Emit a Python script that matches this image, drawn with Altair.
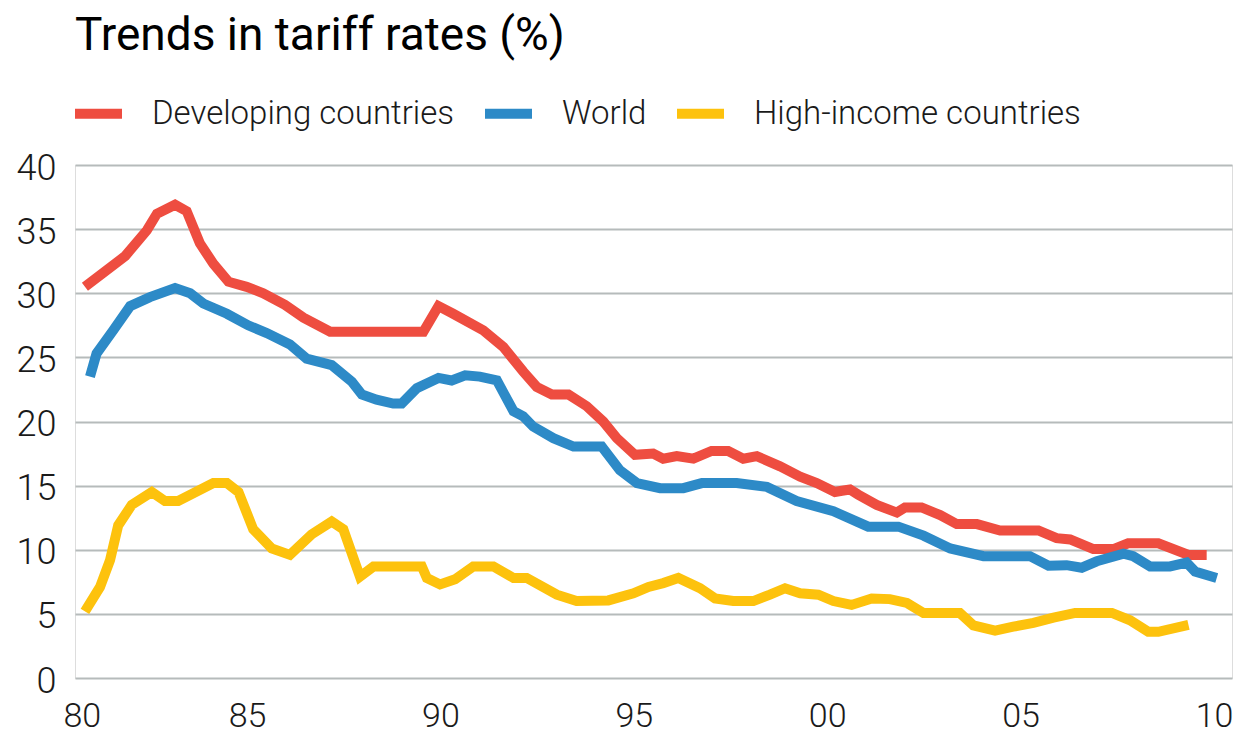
import altair as alt
import pandas as pd

# ---- data (year, tariff rate %) ----
dev_years = [1980.81, 1981.85, 1982.41, 1982.67, 1983.14, 1983.44, 1983.78, 1984.13,
             1984.52, 1984.99, 1985.42, 1985.98, 1986.46, 1987.15, 1989.56, 1989.95,
             1990.33, 1991.11, 1991.63, 1992.14, 1992.49, 1992.88, 1993.31, 1993.78,
             1994.21, 1994.56, 1995.03, 1995.50, 1995.76, 1996.11, 1996.54, 1997.01,
             1997.44, 1997.83, 1998.18, 1998.78, 1999.30, 1999.73, 2000.20, 2000.38,
             2000.59, 2000.80, 2001.28, 2001.80, 2002.01, 2002.44, 2002.92, 2003.35,
             2003.87, 2004.47, 2005.46, 2005.93, 2006.28, 2006.88, 2007.40, 2007.78,
             2008.56, 2009.34, 2009.81]
dev_values = [30.5, 32.9, 34.9, 36.2, 36.9, 36.4, 33.9, 32.3,
              30.9, 30.5, 30.0, 29.1, 28.1, 27.0, 27.0, 29.0,
              28.4, 27.1, 25.8, 23.9, 22.7, 22.1, 22.1, 21.2,
              20.0, 18.7, 17.4, 17.5, 17.1, 17.3, 17.1, 17.7,
              17.7, 17.1, 17.3, 16.5, 15.7, 15.2, 14.5, 14.6,
              14.7, 14.3, 13.5, 12.9, 13.3, 13.3, 12.7, 12.0,
              12.0, 11.5, 11.5, 10.9, 10.8, 10.05, 10.05, 10.5,
              10.5, 9.6, 9.6]

world_years = [1980.94, 1981.11, 1981.54, 1981.98, 1982.49, 1983.14, 1983.53, 1983.87,
               1984.48, 1985.03, 1985.51, 1986.11, 1986.54, 1987.19, 1987.71, 1987.97,
               1988.35, 1988.78, 1989.00, 1989.39, 1989.95, 1990.29, 1990.64, 1991.02,
               1991.46, 1991.89, 1992.14, 1992.40, 1992.92, 1993.44, 1994.17, 1994.64,
               1995.08, 1995.68, 1996.28, 1996.76, 1997.66, 1998.44, 1999.21, 2000.16,
               2001.06, 2001.84, 2002.49, 2003.18, 2004.04, 2005.24, 2005.72, 2006.19,
               2006.58, 2006.97, 2007.66, 2007.91, 2008.35, 2008.86, 2009.29, 2009.51,
               2010.07]
world_values = [23.5, 25.3, 27.1, 29.0, 29.7, 30.4, 30.0, 29.2,
                28.4, 27.5, 26.9, 26.0, 24.9, 24.4, 23.1, 22.1,
                21.7, 21.4, 21.4, 22.6, 23.4, 23.2, 23.6, 23.5,
                23.2, 20.8, 20.4, 19.6, 18.7, 18.05, 18.05, 16.2,
                15.2, 14.8, 14.8, 15.2, 15.2, 14.9, 13.8, 13.0,
                11.8, 11.8, 11.1, 10.1, 9.5, 9.5, 8.75, 8.8,
                8.6, 9.1, 9.7, 9.5, 8.7, 8.7, 9.0, 8.3,
                7.8]

high_years = [1980.81, 1981.20, 1981.46, 1981.67, 1982.02, 1982.54, 1982.88, 1983.22,
              1984.13, 1984.48, 1984.78, 1985.16, 1985.64, 1986.11, 1986.67, 1987.19,
              1987.49, 1987.92, 1988.27, 1989.52, 1989.65, 1989.99, 1990.38, 1990.85,
              1991.37, 1991.89, 1992.23, 1993.01, 1993.52, 1994.34, 1994.99, 1995.38,
              1995.76, 1996.15, 1996.71, 1997.10, 1997.57, 1998.09, 1998.52, 1998.91,
              1999.30, 1999.77, 2000.16, 2000.63, 2001.15, 2001.62, 2002.06, 2002.49,
              2003.43, 2003.78, 2004.34, 2004.81, 2005.33, 2005.85, 2006.41, 2007.36,
              2007.83, 2008.30, 2008.56, 2009.34]
high_values = [5.2, 7.1, 9.2, 11.9, 13.5, 14.5, 13.8, 13.8,
               15.2, 15.2, 14.5, 11.6, 10.1, 9.6, 11.2, 12.2,
               11.6, 7.9, 8.7, 8.7, 7.8, 7.3, 7.7, 8.7,
               8.7, 7.8, 7.8, 6.5, 6.0, 6.05, 6.6, 7.1,
               7.4, 7.8, 7.0, 6.2, 6.0, 6.0, 6.5, 7.0,
               6.6, 6.5, 6.0, 5.7, 6.2, 6.15, 5.85, 5.07,
               5.07, 4.1, 3.7, 4.0, 4.3, 4.7, 5.07, 5.07,
               4.5, 3.6, 3.6, 4.15]

series_names = ["Developing countries", "World", "High-income countries"]
series_colors = ["#ee4d40", "#2d8ac7", "#fdc20d"]
x_tick_values = [1980.73, 1985, 1990, 1995, 2000, 2005, 2010]
y_tick_values = [0, 5, 10, 15, 20, 25, 30, 35, 40]

rows = []
for name, ys, vs in zip(series_names,
                        [dev_years, world_years, high_years],
                        [dev_values, world_values, high_values]):
    for y, v in zip(ys, vs):
        rows.append({"year": y, "rate": v, "series": name})
df = pd.DataFrame(rows)

FONT = "Roboto"

chart = alt.Chart(df).mark_line(strokeWidth=10).encode(
    x=alt.X("year:Q",
            scale=alt.Scale(domain=[1980.553, 2010.465], nice=False, zero=False),
            axis=alt.Axis(title=None, values=x_tick_values,
                          labelExpr="substring(toString(floor(datum.value)), 2, 4)",
                          grid=False, domain=False, ticks=False,
                          labelFontSize=34, labelFont=FONT, labelFontWeight=300,
                          labelColor="#1a1a1a", labelPadding=21,
                          labelFlush=False, labelOverlap=False, labelBound=False)),
    y=alt.Y("rate:Q",
            scale=alt.Scale(domain=[0, 40], nice=False),
            axis=alt.Axis(title=None, values=y_tick_values,
                          grid=True, gridColor="#b6bbbb", gridWidth=2,
                          domain=False, ticks=False,
                          labelFontSize=36, labelFont=FONT, labelFontWeight=300,
                          labelColor="#1a1a1a", labelPadding=19, labelOffset=3,
                          labelOverlap=False, labelBound=False)),
    color=alt.Color("series:N",
                    scale=alt.Scale(domain=series_names, range=series_colors),
                    sort=series_names,
                    legend=alt.Legend(orient="none", legendX=-5, legendY=-80,
                                      direction="horizontal", title=None,
                                      symbolType="stroke", symbolSize=2209,
                                      symbolStrokeWidth=10,
                                      labelFontSize=33, labelFont=FONT,
                                      labelFontWeight=300, labelColor="#1a1a1a",
                                      labelOffset=25, columnPadding=10,
                                      labelLimit=0)),
).properties(
    width=1157,
    height=513,
    title=alt.TitleParams("Trends in tariff rates (%)", anchor="start", frame="group",
                          fontSize=46, font=FONT, fontWeight=400, color="#000000",
                          offset=25),
    autosize=alt.AutoSizeParams(type="none"),
    padding={"left": 67, "top": 157, "right": 3, "bottom": 58},
).configure_view(stroke=None).configure(background="white")

chart.save("out.html", embed_options={"renderer": "svg", "actions": False})
